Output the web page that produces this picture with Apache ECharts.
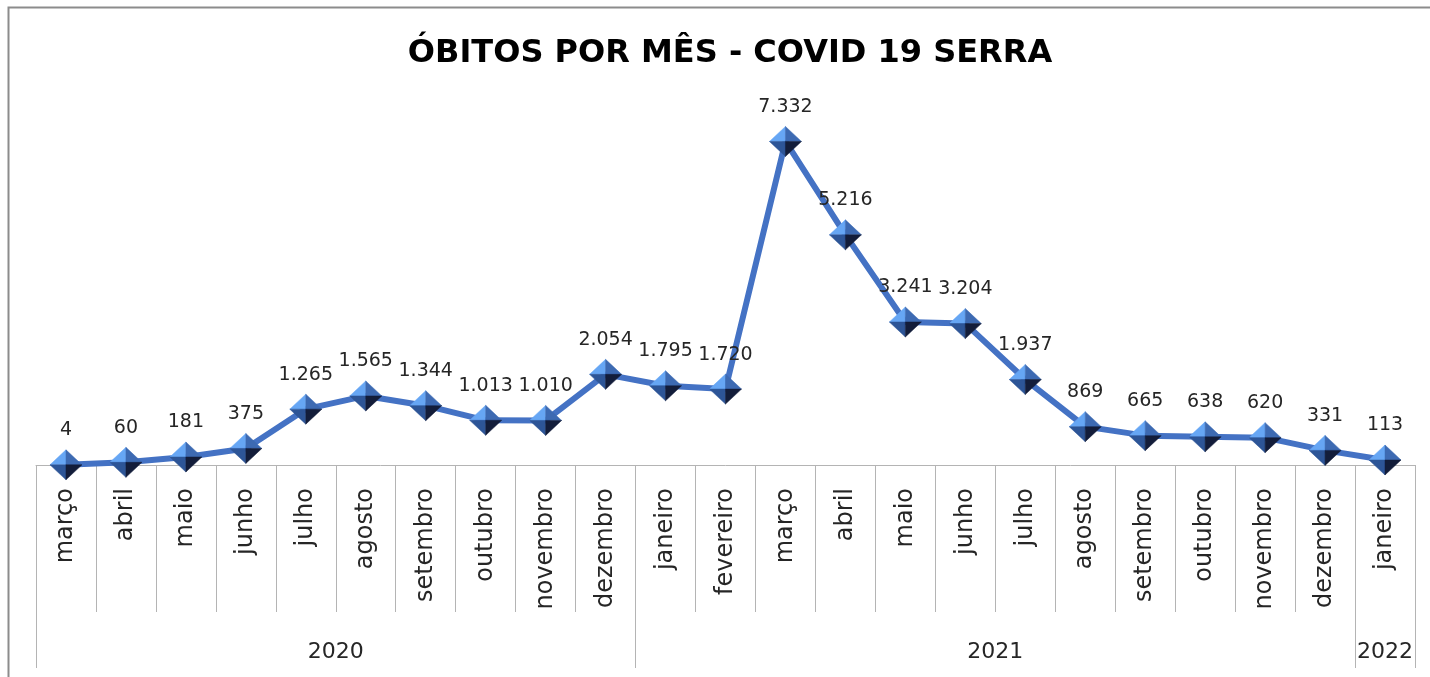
<!DOCTYPE html>
<html>
<head>
<meta charset="utf-8">
<script src="https://cdn.jsdelivr.net/npm/echarts@6/dist/echarts.min.js"></script>
<style>
  html, body { margin: 0; padding: 0; background: #fff; }
  #chart { width: 1430px; height: 677px; }
</style>
</head>
<body>
<div id="chart"></div>
<script>
const months = ['março', 'abril', 'maio', 'junho', 'julho', 'agosto', 'setembro', 'outubro', 'novembro', 'dezembro',
  'janeiro', 'fevereiro', 'março', 'abril', 'maio', 'junho', 'julho', 'agosto', 'setembro', 'outubro', 'novembro', 'dezembro',
  'janeiro']
const deaths = [4, 60, 181, 375, 1265, 1565, 1344, 1013, 1010, 2054, 1795, 1720, 7332, 5216, 3241, 3204, 1937, 869, 665, 638, 620, 331, 113]
const years = ['2020', '2021', '2022']
const yearSpans = [10, 12, 1]

// bordas e centros dos grupos de anos
const yearEdges = [0]
yearSpans.forEach(s => yearEdges.push(yearEdges[yearEdges.length - 1] + s))
const yearCenters = yearSpans.map((s, i) => yearEdges[i] + s / 2)

const fmt = v => String(v).replace(/\B(?=(\d{3})+(?!\d))/g, '.')

const gray = '#b4b4b4'
const font = 'DejaVu Sans'

// faces da pirâmide do marcador
const faces = [
  { path: 'path://M0,1L1,0L1,1Z', off: [-8, -7.5], color: '#66a6f4' },
  { path: 'path://M0,0L1,1L0,1Z', off: [8, -7.5], color: '#3d6ab2' },
  { path: 'path://M0,0L1,0L1,1Z', off: [-8, 7.5], color: '#2d5597' },
  { path: 'path://M0,0L1,0L0,1Z', off: [8, 7.5], color: '#131d3a' },
]

const myChart = echarts.init(document.getElementById('chart'))
let option = {
  animation: false,
  title: {
    text: 'ÓBITOS POR MÊS - COVID 19 SERRA',
    left: 725,
    top: 33,
    textAlign: 'center',
    textStyle: { fontFamily: font, fontWeight: 'bold', fontSize: 32, color: '#000' },
  },
  // moldura: só as bordas de cima e da esquerda aparecem
  graphic: [{
    type: 'polyline',
    shape: { points: [[8.5, 700], [8.5, 7.5], [1440, 7.5]] },
    style: { fill: null, stroke: '#8c8c8c', lineWidth: 2 },
    silent: true,
  }],
  grid: { left: 36, right: 15, top: 112, bottom: 212 },
  xAxis: [
    {
      type: 'category',
      data: months,
      boundaryGap: true,
      axisLine: { lineStyle: { color: gray, width: 1 } },
      axisTick: { show: true, interval: 0, length: 147, lineStyle: { color: gray } },
      axisLabel: { interval: 0, rotate: 90, margin: 23, fontFamily: font, fontSize: 24, color: '#262626' },
    },
    {
      type: 'value',
      min: 0,
      max: months.length,
      position: 'bottom',
      offset: 147,
      axisLine: { show: false },
      splitLine: { show: false },
      axisTick: { show: true, customValues: yearEdges, length: 56, lineStyle: { color: gray } },
      axisLabel: {
        customValues: yearCenters,
        margin: 29,
        fontFamily: font,
        fontSize: 22,
        color: '#262626',
        formatter: v => years[yearCenters.indexOf(v)],
      },
    },
  ],
  yAxis: { type: 'value', min: 0, max: 8000, show: false },
  series: [
    {
      type: 'line',
      data: deaths,
      z: 2,
      symbol: 'circle',
      symbolSize: 2,
      lineStyle: { color: '#4472c4', width: 6 },
      itemStyle: { color: '#4472c4' },
      label: {
        show: true,
        position: 'top',
        distance: 24,
        fontFamily: font,
        fontSize: 19,
        color: '#262626',
        formatter: p => fmt(p.value),
      },
    },
    ...faces.map(f => ({
      type: 'scatter',
      data: deaths,
      z: 3,
      symbol: f.path,
      symbolSize: [16, 15],
      symbolOffset: f.off,
      itemStyle: { color: f.color, borderColor: f.color, borderWidth: 0.5, opacity: 1 },
    })),
  ],
}
option && myChart.setOption(option)
</script>
</body>
</html>
